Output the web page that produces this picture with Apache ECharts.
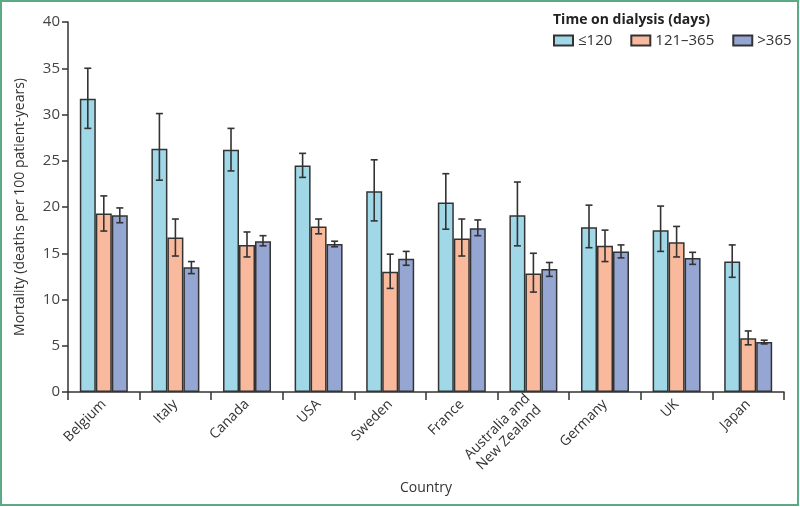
<!DOCTYPE html>
<html>
<head>
<meta charset="utf-8">
<script src="https://cdn.jsdelivr.net/npm/echarts@6/dist/echarts.min.js"></script>
<style>html,body{margin:0;padding:0;background:#fff}#c{width:800px;height:507px}</style>
</head>
<body>
<div id="c"></div>
<script>
const categories = ['Belgium','Italy','Canada','USA','Sweden','France','Australia and\nNew Zealand','Germany','UK','Japan'];
const seriesNames = ['≤120','121–365','>365'];
const yTicks = [0,5,10,15,20,25,30,35,40];

const mean120 = [31.7,26.3,26.2,24.5,21.7,20.5,19.1,17.8,17.5,14.1];
const low120  = [28.5,22.9,23.9,23.2,18.5,17.6,15.8,15.6,15.2,12.4];
const high120 = [35.0,30.1,28.5,25.8,25.1,23.6,22.7,20.2,20.1,15.9];

const mean365 = [19.3,16.7,15.9,17.9,13.0,16.6,12.8,15.8,16.2,5.8];
const low365  = [17.4,14.7,14.6,17.1,11.2,14.7,10.8,14.1,14.6,5.1];
const high365 = [21.2,18.7,17.3,18.7,14.9,18.7,15.0,17.5,17.9,6.6];

const meanOver = [19.1,13.5,16.3,16.0,14.4,17.7,13.3,15.2,14.5,5.4];
const lowOver  = [18.3,12.8,15.8,15.7,13.7,16.9,12.5,14.5,13.8,5.2];
const highOver = [19.9,14.1,16.9,16.3,15.2,18.6,14.0,15.9,15.1,5.6];

const colors = ['#a0d8e8','#f8b99d','#96a6d2'];
const FONT = 'Open Sans';
const CAT_GAP = 0.33;

const means = [mean120, mean365, meanOver];
const lows = [low120, low365, lowOver];
const highs = [high120, high365, highOver];

function errRender(k){
  return function(params, api){
    const i = api.value(0);
    const hi = api.coord([i, api.value(2)]);
    const lo = api.coord([i, api.value(1)]);
    const band = api.size([1,0])[0];
    const bw = band*(1-CAT_GAP)/3;
    const x = hi[0] + (k-1)*bw;
    const cap = 3.5;
    const st = {stroke:'#333', lineWidth:1.6};
    return {type:'group', children:[
      {type:'line', shape:{x1:x,y1:hi[1],x2:x,y2:lo[1]}, style:st},
      {type:'line', shape:{x1:x-cap,y1:hi[1],x2:x+cap,y2:hi[1]}, style:st},
      {type:'line', shape:{x1:x-cap,y1:lo[1],x2:x+cap,y2:lo[1]}, style:st}
    ]};
  };
}

const series = [];
for (let k=0;k<3;k++){
  series.push({
    name: seriesNames[k], type:'bar', data: means[k],
    barGap: '0%', barCategoryGap: (CAT_GAP*100)+'%',
    itemStyle:{color:colors[k], borderColor:'#333', borderWidth:1.5},
    emphasis:{disabled:true}
  });
}
for (let k=0;k<3;k++){
  series.push({
    name: 'err'+k, type:'custom', renderItem: errRender(k), z: 5,
    encode:{x:0, y:[1,2]},
    data: categories.map((c,i)=>[i, lows[k][i], highs[k][i]])
  });
}

const chart = echarts.init(document.getElementById('c'), null, {renderer:'canvas'});
chart.setOption({
  animation:false,
  backgroundColor:'#fff',
  textStyle:{fontFamily:FONT},
  grid:{left:68, right:16, top:22, bottom:115},
  legend:{
    data: seriesNames, left:553, top:33, padding:0, icon:'rect',
    itemWidth:19, itemHeight:10, itemGap:18,
    textStyle:{fontFamily:FONT, fontSize:15, color:'#333'},
    selectedMode:false
  },
  graphic:[
    {type:'text', left:553, top:13, style:{text:'Time on dialysis (days)', font:'bold 14px "Open Sans"', fill:'#222'}},
    {type:'rect', shape:{x:1, y:1, width:797, height:504}, style:{fill:'none', stroke:'#5aaa86', lineWidth:2}, silent:true}
  ],
  xAxis:{
    type:'category', data: categories,
    name:'Country', nameLocation:'middle', nameGap:88,
    nameTextStyle:{fontFamily:FONT, fontSize:14, color:'#333'},
    axisLine:{lineStyle:{color:'#333', width:1.5}},
    axisTick:{show:true, length:8, lineStyle:{color:'#333', width:1.5}},
    axisLabel:{rotate:45, fontFamily:FONT, fontSize:14, color:'#333', margin:10, interval:0, lineHeight:16}
  },
  yAxis:{
    type:'value', min:0, max:40, interval:5,
    name:'Mortality (deaths per 100 patient-years)', nameLocation:'middle', nameGap:41,
    nameTextStyle:{fontFamily:FONT, fontSize:14, color:'#333'},
    axisLine:{show:true, lineStyle:{color:'#333', width:1.5}},
    axisTick:{show:true, length:6, lineStyle:{color:'#333', width:1.5}},
    axisLabel:{fontFamily:FONT, fontSize:15, color:'#444', margin:8,
      formatter: v => yTicks.indexOf(v) >= 0 ? String(v) : ''},
    splitLine:{show:false}
  },
  series: series
});
</script>
</body>
</html>
